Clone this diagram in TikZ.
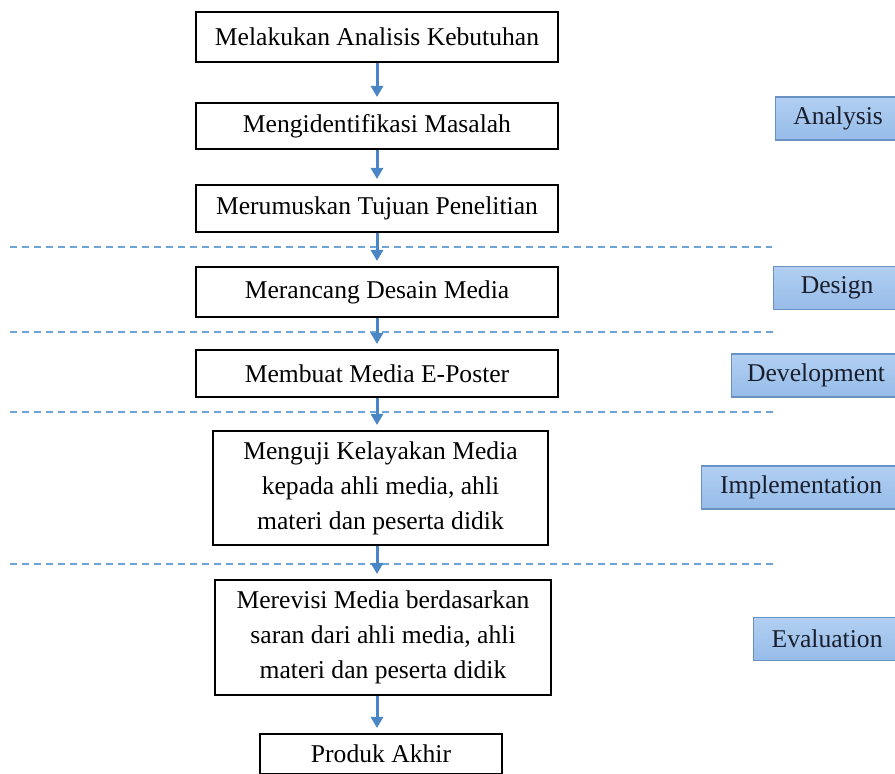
\documentclass[tikz,border=0pt]{standalone}
\usepackage{fontspec}
\setmainfont{Liberation Serif}
\usetikzlibrary{arrows.meta}

\definecolor{linkblue}{RGB}{74,134,198}
\definecolor{sepblue}{RGB}{110,165,215}
\definecolor{phasetop}{RGB}{178,207,242}
\definecolor{phasebot}{RGB}{150,188,232}
\definecolor{phaseline}{RGB}{105,145,195}
\definecolor{phasetext}{RGB}{25,30,45}

\begin{document}
\begin{tikzpicture}[x=0.5pt,y=-0.5pt,
    stepbox/.style={draw=black, line width=1pt, align=center, inner sep=0pt,
        font=\fontsize{12.8}{17.5}\selectfont},
    phase/.style={draw=phaseline, line width=0.6pt, top color=phasetop, bottom color=phasebot,
        anchor=west, minimum height=21.5pt, inner sep=0pt, text=phasetext,
        font=\fontsize{12.8}{15}\selectfont},
    arr/.style={draw=linkblue, line width=1.5pt, -{Triangle[width=6pt,length=5.5pt]}, shorten >=2.5pt},
    sep/.style={draw=sepblue, line width=1pt, dash pattern=on 3.5pt off 2.5pt}]
    \useasboundingbox (0,0) rectangle (895,774);

    % langkah
    \node[stepbox, minimum width=181pt, minimum height=25pt] (analisis) at (377,37) {Melakukan Analisis Kebutuhan};
    \node[stepbox, minimum width=181pt, minimum height=23pt] (masalah) at (377,126) {Mengidentifikasi Masalah};
    \node[stepbox, minimum width=181pt, minimum height=23.5pt] (tujuan) at (377,208.5) {Merumuskan Tujuan Penelitian};
    \node[stepbox, minimum width=181pt, minimum height=25pt] (rancang) at (377,292) {Merancang Desain Media};
    \node[stepbox, minimum width=181pt, minimum height=23.5pt] (buat) at (377,373.5) {Membuat Media E-Poster};
    \node[stepbox, minimum width=167.5pt, minimum height=57pt] (uji) at (380.5,488)
        {Menguji Kelayakan Media\\kepada ahli media, ahli\\materi dan peserta didik};
    \node[stepbox, minimum width=168pt, minimum height=57.5pt] (revisi) at (383,637.5)
        {Merevisi Media berdasarkan\\saran dari ahli media, ahli\\materi dan peserta didik};
    \node[stepbox, minimum width=121pt, minimum height=20pt] (produk) at (381,754) {Produk Akhir};

    % tahap
    \node[phase, minimum width=62.5pt] (analysis) at (775,118.5) {Analysis};
    \node[phase, minimum width=63.5pt] (design) at (773,288) {Design};
    \node[phase, minimum width=84.5pt] (development) at (731,375.5) {Development};
    \node[phase, minimum width=99.5pt] (implementation) at (701,487.5) {Implementation};
    \node[phase, minimum width=73.5pt] (evaluation) at (753,639) {Evaluation};

    % garis batas
    \draw[sep] (10,247) -- (772,247);
    \draw[sep] (10,332) -- (775,332);
    \draw[sep] (10,412) -- (773,412);
    \draw[sep] (10,564) -- (773,564);

    % panah
    \draw[arr] (analisis.south) -- (masalah.north);
    \draw[arr] (masalah.south) -- (tujuan.north);
    \draw[arr] (tujuan.south) -- (rancang.north);
    \draw[arr] (rancang.south) -- (buat.north);
    \draw[arr] (buat.south) -- (buat.south |- uji.north);
    \draw[arr] (uji.south -| buat.south) -- (revisi.north -| buat.south);
    \draw[arr] (revisi.south -| buat.south) -- (produk.north -| buat.south);
\end{tikzpicture}
\end{document}
